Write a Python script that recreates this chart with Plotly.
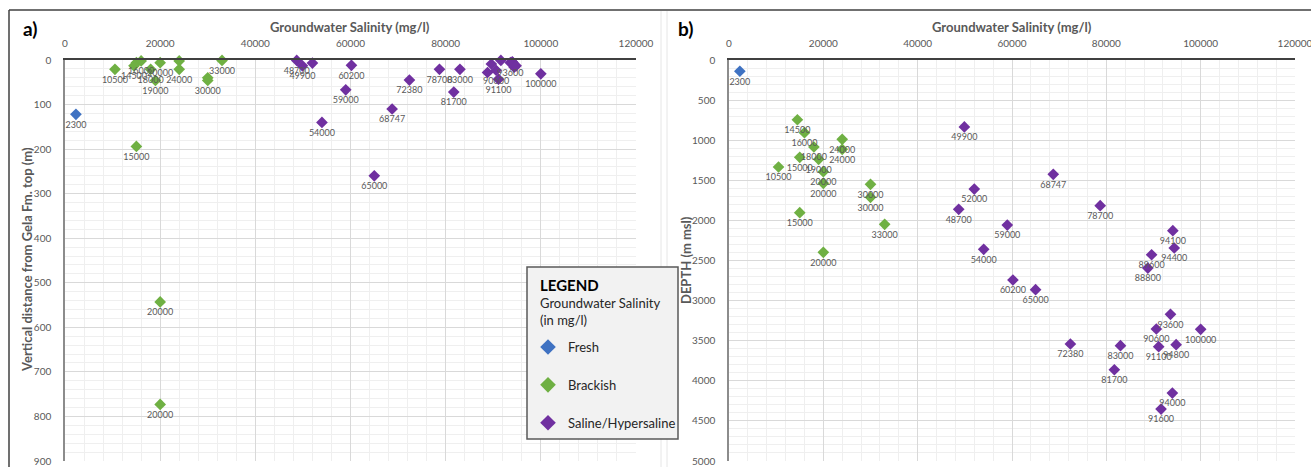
import plotly.graph_objects as go

# ---- well data -------------------------------------------------------------
# salinity (mg/l), vertical distance from Gela Fm. top (m), depth (m msl)
fresh_salinity = [2300]
fresh_gela = [122]
fresh_depth = [140]
fresh_label_a = [True]

brackish_salinity = [10500, 14500, 15000, 16000, 18000, 19000, 20000, 20000,
                     20000, 24000, 24000, 30000, 30000, 33000, 15000]
brackish_gela = [21, 13, 6, 2, 21, 46, 6, 543, 773, 2, 21, 40, 46, 1, 194]
brackish_depth = [1334, 745, 1213, 906, 1085, 1238, 1393, 1538, 2398, 989,
                  1114, 1550, 1712, 2049, 1904]
brackish_label_a = [True, True, False, True, True, True, True, True, True,
                    False, True, False, True, True, True]

saline_salinity = [48700, 49900, 52000, 54000, 59000, 60200, 65000, 68747,
                   72380, 78700, 81700, 83000, 88800, 89600, 90600, 91100,
                   91600, 93600, 94000, 94100, 94400, 94800, 100000]
saline_gela = [1, 13, 7, 140, 67, 12, 260, 110, 45, 21, 72, 21, 28, 9, 23,
               43, 1, 6, 4, 6, 16, 13, 31]
saline_depth = [1862, 835, 1609, 2361, 2058, 2743, 2864, 1426, 3541, 1817,
                3862, 3562, 2594, 2428, 3354, 3575, 4352, 3171, 4153, 2128,
                2344, 3550, 3358]
saline_label_a = [True, True, False, True, True, True, True, True, True, True,
                  True, True, False, False, True, True, False, True, False,
                  False, False, False, True]

x_ticks = [0, 20000, 40000, 60000, 80000, 100000, 120000]

groups = [
    ("Fresh", "#3f72c2", fresh_salinity, fresh_gela, fresh_depth, fresh_label_a),
    ("Brackish", "#6fb043", brackish_salinity, brackish_gela, brackish_depth, brackish_label_a),
    ("Saline/Hypersaline", "#7030a0", saline_salinity, saline_gela, saline_depth, saline_label_a),
]

W, H = 1311, 467
FONT = "Lato, 'Open Sans', sans-serif"
GREY = "#595959"


def px(x):
    return x / W


def py(y):
    return 1 - y / H


fig = go.Figure()

for name, color, sal, gela, depth, show_a in groups:
    labels_a = [str(s) if s_on else "" for s, s_on in zip(sal, show_a)]
    labels_b = [str(s) for s in sal]
    fig.add_trace(go.Scatter(
        x=sal, y=gela, mode="markers+text", name=name, legendgroup=name,
        text=labels_a, textposition="bottom center",
        textfont=dict(size=9, color=GREY, family=FONT),
        marker=dict(symbol="diamond", size=9, color=color),
        xaxis="x", yaxis="y", cliponaxis=False,
    ))
    fig.add_trace(go.Scatter(
        x=sal, y=depth, mode="markers+text", name=name, legendgroup=name,
        showlegend=False,
        text=labels_b, textposition="bottom center",
        textfont=dict(size=9, color=GREY, family=FONT),
        marker=dict(symbol="diamond", size=9, color=color),
        xaxis="x2", yaxis="y2", cliponaxis=False,
    ))

ydom = [py(461), py(60)]
TICKFONT = dict(size=10, color=GREY, family=FONT)

xcommon = dict(
    range=[0, 120000], tickvals=x_ticks, tickformat="d", side="top",
    showgrid=True, gridcolor="#d9d9d9", gridwidth=1,
    minor=dict(dtick=4000, showgrid=True, gridcolor="#efefef", gridwidth=1),
    showline=True, linecolor="#404040", linewidth=1.5,
    tickfont=TICKFONT, automargin=False, ticklabeloverflow="allow",
    ticks="", ticklabelstandoff=7, zeroline=False, fixedrange=True,
)
ycommon = dict(
    showgrid=True, gridcolor="#d9d9d9",
    showline=True, linecolor="#8c8c8c", linewidth=1.5,
    tickfont=TICKFONT, automargin=False, ticklabeloverflow="allow",
    ticks="", ticklabelstandoff=10, zeroline=False, fixedrange=True,
)

fig.update_layout(
    width=W, height=H, autosize=False,
    margin=dict(l=0, r=0, t=0, b=0, autoexpand=False),
    paper_bgcolor="white", plot_bgcolor="white",
    font=dict(family=FONT, color=GREY),
    xaxis=dict(domain=[px(65), px(636)], anchor="y", **xcommon),
    xaxis2=dict(domain=[px(729), px(1295)], anchor="y2", **xcommon),
    yaxis=dict(domain=ydom, anchor="x", range=[900, 0], dtick=100,
               minor=dict(dtick=20, showgrid=True, gridcolor="#efefef"), **ycommon),
    yaxis2=dict(domain=ydom, anchor="x2", range=[5000, 0], dtick=500,
                minor=dict(dtick=100, showgrid=True, gridcolor="#efefef"), **ycommon),
    legend=dict(
        x=px(528), y=py(332), xanchor="left", yanchor="top",
        bgcolor="rgba(0,0,0,0)", borderwidth=0,
        font=dict(size=13, color="#262626", family=FONT),
        itemsizing="constant", tracegroupgap=18,
    ),
    showlegend=True,
)

# panel frame lines and legend box
shapes = [
    dict(type="line", x0=px(9), x1=1, y0=py(10), y1=py(10),
         line=dict(color="#404040", width=1.5)),
    dict(type="line", x0=px(9), x1=px(9), y0=0, y1=py(10),
         line=dict(color="#404040", width=1.5)),
    dict(type="line", x0=px(661), x1=px(661), y0=0, y1=py(11),
         line=dict(color="#e6e6e6", width=1)),
    dict(type="line", x0=px(667), x1=px(667), y0=0, y1=py(11),
         line=dict(color="#e6e6e6", width=1)),
    dict(type="rect", x0=px(527), x1=px(678), y0=py(439), y1=py(267),
         fillcolor="#f2f2f2", line=dict(color=GREY, width=1.5), layer="above"),
]
for s in shapes:
    s.update(xref="paper", yref="paper")
fig.update_layout(shapes=shapes)

annotations = [
    dict(text="<b>a)</b>", x=px(21), y=py(28), xanchor="left", yanchor="middle",
         font=dict(size=19, color="#000", family=FONT)),
    dict(text="<b>b)</b>", x=px(676), y=py(28), xanchor="left", yanchor="middle",
         font=dict(size=19, color="#000", family=FONT)),
    dict(text="<b>Groundwater Salinity (mg/l)</b>", x=px(350), y=py(27),
         xanchor="center", yanchor="middle", font=dict(size=13, color=GREY, family=FONT)),
    dict(text="<b>Groundwater Salinity (mg/l)</b>", x=px(1012), y=py(27),
         xanchor="center", yanchor="middle", font=dict(size=13, color=GREY, family=FONT)),
    dict(text="<b>Vertical distance from Gela Fm. top (m)</b>", x=px(27), y=py(260),
         xanchor="center", yanchor="middle", textangle=-90,
         font=dict(size=13, color=GREY, family=FONT)),
    dict(text="<b>DEPTH (m msl)</b>", x=px(686), y=py(260),
         xanchor="center", yanchor="middle", textangle=-90,
         font=dict(size=13, color=GREY, family=FONT)),
    # legend heading
    dict(text="<b>LEGEND</b>", x=px(538), y=py(285), xanchor="left", yanchor="middle",
         font=dict(size=15, color="#000", family=FONT)),
    dict(text="Groundwater Salinity", x=px(538), y=py(303), xanchor="left", yanchor="middle",
         font=dict(size=13, color="#262626", family=FONT)),
    dict(text="(in mg/l)", x=px(538), y=py(320), xanchor="left", yanchor="middle",
         font=dict(size=13, color="#262626", family=FONT)),
]
for a in annotations:
    a.update(xref="paper", yref="paper", showarrow=False)
fig.update_layout(annotations=annotations)

fig.write_html("out.html")
